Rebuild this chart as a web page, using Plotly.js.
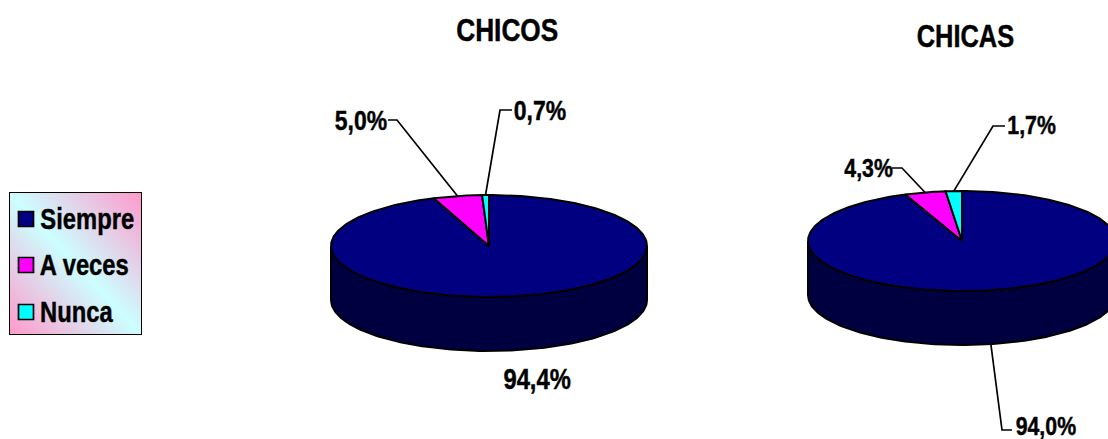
<!DOCTYPE html>
<html>
<head>
<meta charset="utf-8">
<script src="https://cdn.plot.ly/plotly-3.0.1.min.js"></script>
<style>
html,body{margin:0;padding:0;background:#fff}
#chart{width:1108px;height:439px}
/* Condensed, heavy look for every caption */
#chart .annotation-text{transform-box:fill-box;transform-origin:center;transform:scaleX(.82);stroke:#000;stroke-width:.45px}
</style>
</head>
<body>
<div id="chart"></div>
<script>
// Survey answers, in percent, listed clockwise from twelve o'clock
const categories = ['Siempre', 'A veces', 'Nunca'];
const chicos = [94.4, 5.0, 0.7];
const chicas = [94.0, 4.3, 1.7];
const groupNames = ['CHICOS', 'CHICAS'];

const topColors = ['#000080', '#ff00ff', '#00ffff'];
const wallColor = '#000040';
const labelFont = 'Liberation Sans, Arial, sans-serif';
const W = 1108, H = 439;

// Tilted-disc geometry and the placement of each disc's labels
const discs = [
  {values: chicos, cx: 489, cy: 246, rx: 158, ry: 51, depth: 54,
   title: {x: 507, y: 30, size: 32}, size: 28,
   labels: [
     {tx: 537, ty: 379, size: 29, leader: null},
     {tx: 361, ty: 120, elbow: [397, 120], end: [388, 120]},
     {tx: 540, ty: 110, elbow: [500, 110], end: [512, 110]}
   ]},
  {values: chicas, cx: 962, cy: 241, rx: 154, ry: 50, depth: 54,
   title: {x: 965, y: 36, size: 31}, size: 26,
   labels: [
     {tx: 1046, ty: 425.5, size: 26, elbow: [1002, 430], end: [1012, 430]},
     {tx: 868, ty: 168, elbow: [902, 168], end: [892, 168]},
     {tx: 1031, ty: 125, elbow: [993, 126], end: [1005, 126]}
   ]}
];

// Legend box and rows
const legendBox = {x0: 10, x1: 141, y0: 193, y1: 334};
const legendRows = [219, 265, 312];
const legendCaptionCentres = [87, 84.5, 76.5];

const traces = [], annotations = [];

function rim(d, a0, a1) {
  // Points on the top rim, angles in radians clockwise from twelve o'clock
  const n = Math.max(2, Math.ceil(Math.abs(a1 - a0) / 0.02));
  const xs = [], ys = [];
  for (let i = 0; i <= n; i++) {
    const a = a0 + (a1 - a0) * i / n;
    xs.push(d.cx + d.rx * Math.sin(a));
    ys.push(d.cy - d.ry * Math.cos(a));
  }
  return {xs, ys};
}

function polygon(xs, ys, color) {
  traces.push({
    type: 'scatter', mode: 'lines', x: xs, y: ys, fill: 'toself', fillcolor: color,
    line: {color: '#000', width: 2}, hoverinfo: 'skip', showlegend: false
  });
}

function percentText(v) {
  return v.toFixed(1).replace('.', ',') + '%';
}

discs.forEach((d, k) => {
  const total = d.values.reduce((s, v) => s + v, 0);

  // Cylinder wall below the front half of the rim
  const front = rim(d, Math.PI / 2, 3 * Math.PI / 2);
  polygon(
    front.xs.concat(front.xs.slice().reverse(), front.xs[0]),
    front.ys.concat(front.ys.slice().reverse().map(y => y + d.depth), front.ys[0]),
    wallColor
  );

  // Top-face wedges
  let start = 0;
  d.values.forEach((v, i) => {
    const sweep = v / total * 2 * Math.PI;
    const arc = rim(d, start, start + sweep);
    polygon([d.cx].concat(arc.xs, d.cx), [d.cy].concat(arc.ys, d.cy), topColors[i]);

    // Value label, with a leader from the middle of the wedge's outer edge
    const lab = d.labels[i];
    if (lab.elbow) {
      const mid = start + sweep / 2;
      const drop = Math.cos(mid) < 0 ? d.depth : 0;
      traces.push({
        type: 'scatter', mode: 'lines',
        x: [d.cx + d.rx * Math.sin(mid), lab.elbow[0], lab.end[0]],
        y: [d.cy - d.ry * Math.cos(mid) + drop, lab.elbow[1], lab.end[1]],
        line: {color: '#000', width: 1.7}, hoverinfo: 'skip', showlegend: false
      });
    }
    annotations.push({
      x: lab.tx, y: lab.ty, xref: 'x', yref: 'y', text: '<b>' + percentText(v) + '</b>',
      showarrow: false, xanchor: 'center', yanchor: 'middle',
      font: {family: labelFont, size: lab.size || d.size, color: '#000'}
    });
    start += sweep;
  });

  annotations.push({
    x: d.title.x, y: d.title.y, xref: 'x', yref: 'y', text: '<b>' + groupNames[k] + '</b>',
    showarrow: false, xanchor: 'center', yanchor: 'middle',
    font: {family: labelFont, size: d.title.size, color: '#000'}
  });
});

// Legend swatches and captions
traces.push({
  type: 'scatter', mode: 'markers', x: categories.map(() => 26), y: legendRows,
  marker: {symbol: 'square', size: 15, color: topColors, line: {color: '#000', width: 1.7}},
  hoverinfo: 'skip', showlegend: false
});
categories.forEach((c, i) => annotations.push({
  x: legendCaptionCentres[i], y: legendRows[i], xref: 'x', yref: 'y', text: '<b>' + c + '</b>',
  showarrow: false, xanchor: 'center', yanchor: 'middle',
  font: {family: labelFont, size: 29, color: '#000'}
}));

// Diagonal pink-to-cyan wash behind the legend
const wash = "<svg xmlns='http://www.w3.org/2000/svg' width='131' height='141'>" +
  "<defs><linearGradient id='g' x1='1' y1='0' x2='0' y2='1'>" +
  "<stop offset='0' stop-color='#ff99cc'/><stop offset='0.5' stop-color='#ccffff'/>" +
  "<stop offset='1' stop-color='#ff99cc'/></linearGradient></defs>" +
  "<rect width='131' height='141' fill='url(#g)'/></svg>";

const hidden = {visible: false, fixedrange: true};
const layout = {
  width: W, height: H,
  margin: {l: 0, r: 0, t: 0, b: 0, pad: 0},
  paper_bgcolor: '#fff', plot_bgcolor: 'rgba(0,0,0,0)',
  showlegend: false,
  xaxis: Object.assign({range: [0, W]}, hidden),
  yaxis: Object.assign({range: [H, 0]}, hidden),
  images: [{
    source: 'data:image/svg+xml;utf8,' + encodeURIComponent(wash),
    xref: 'x', yref: 'y', x: legendBox.x0, y: legendBox.y0,
    sizex: legendBox.x1 - legendBox.x0, sizey: legendBox.y1 - legendBox.y0,
    sizing: 'stretch', xanchor: 'left', yanchor: 'top', layer: 'below'
  }],
  shapes: [{
    type: 'rect', xref: 'x', yref: 'y', layer: 'below',
    x0: legendBox.x0, x1: legendBox.x1, y0: legendBox.y0, y1: legendBox.y1,
    line: {color: '#000', width: 2}, fillcolor: 'rgba(0,0,0,0)'
  }],
  annotations: annotations
};

Plotly.newPlot('chart', traces, layout, {displayModeBar: false, staticPlot: true});
</script>
</body>
</html>
